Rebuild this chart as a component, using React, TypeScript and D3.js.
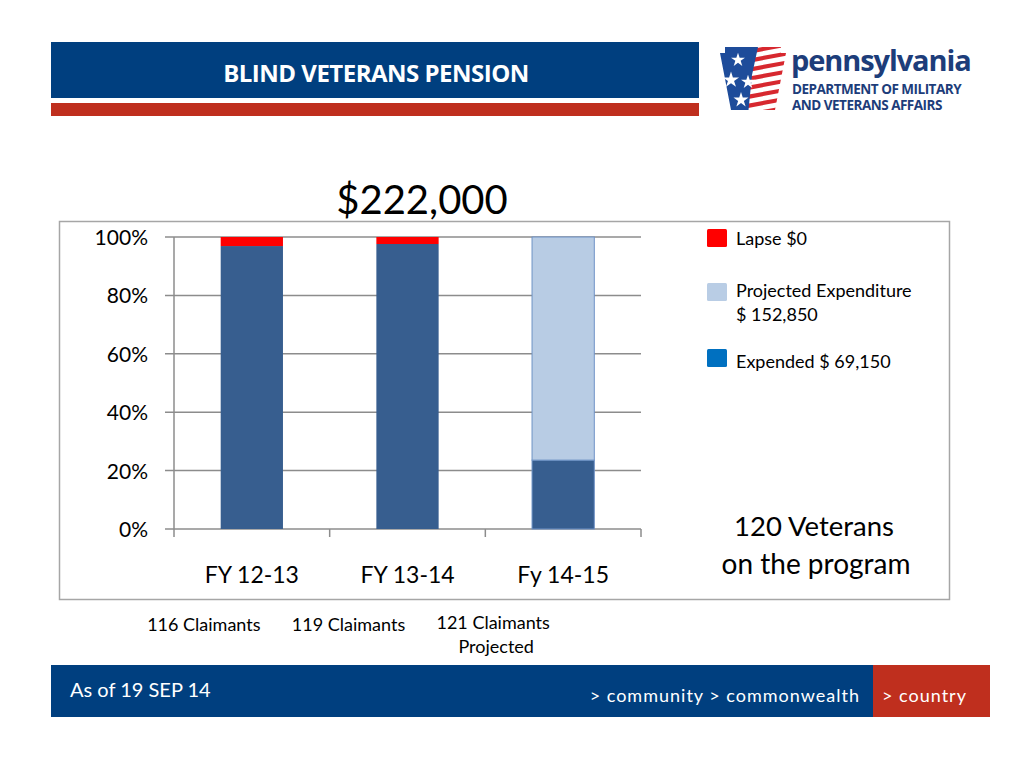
import React from "react";
import * as d3 from "d3";

const categories = ["FY 12-13", "FY 13-14", "Fy 14-15"];
const expended = [96.9, 97.6, 23.6];
const projected = [0, 0, 76.4];
const lapse = [3.1, 2.4, 0];
const yTicks = [0, 20, 40, 60, 80, 100];
const claimantLines = [["116 Claimants"], ["119 Claimants"], ["121 Claimants", "Projected"]];
const claimantOffsets = [-48, -59, -70];
const legendItems = [
  { key: "lapse", lines: ["Lapse $0"], color: "#FF0000" },
  { key: "projected", lines: ["Projected Expenditure", "$ 152,850"], color: "#B9CDE5" },
  { key: "expended", lines: ["Expended $ 69,150"], color: "#0070C0" },
];
const title = "$222,000";
const seriesKeys = ["expended", "projected", "lapse"];
const seriesColors: Record<string, string> = { expended: "#375E8F", projected: "#B8CCE4", lapse: "#FF0000" };

const FONT = "Lato, 'Open Sans', sans-serif";

export default function App() {
  const rows = categories.map((c, i) => ({ cat: c, expended: expended[i], projected: projected[i], lapse: lapse[i] }));
  const stack = d3.stack<any>().keys(seriesKeys);
  const series = stack(rows);
  const x = d3.scaleBand().domain(categories).range([174, 641]).padding(0);
  const y = d3.scaleLinear().domain([0, 100]).range([529, 237]);
  const barW = x.bandwidth() * 0.4;

  const star = d3.symbol().type(d3.symbolStar);
  const legendMarkerY = [229, 283, 349];
  const legendTextY = [[245], [297, 321], [368]];

  return (
    <svg width={1024} height={768} style={{ position: "absolute", left: 0, top: 0, background: "#fff" }} fontFamily={FONT}>
      <rect x={0} y={0} width={1024} height={768} fill="#ffffff" />
      {/* header */}
      <rect x={51} y={42} width={648} height={56} fill="#003F7F" />
      <rect x={51} y={103} width={648} height={13} fill="#BF2F1E" />
      <text x={376} y={82} textAnchor="middle" fill="#fff" fontSize={24} fontWeight="bold" fontFamily="'Open Sans', sans-serif" letterSpacing={-0.5}>BLIND VETERANS PENSION</text>

      {/* logo */}
      <g>
        <clipPath id="ks">
          <polygon points="725,47 781,47 781,53 786,53 775,110 731,110 720,53 725,53" />
        </clipPath>
        <g clipPath="url(#ks)">
          <rect x={715} y={45} width={75} height={70} fill="#fff" />
          {d3.range(8).map((i) => (
            <polygon key={i} points={`${735},${52 + i * 9} ${790},${42 + i * 9} ${790},${46 + i * 9} ${735},${56.5 + i * 9}`} fill="#D7282F" />
          ))}
          <polygon points="715,45 752,45 758,47 752,75 748,115 715,115" fill="#1E4C9A" />
        </g>
        {[[738, 60, 60], [731, 80, 80], [748, 82, 60], [741, 100, 70]].map(([cx, cy, s], i) => (
          <path key={i} d={star.size(s as number)() as string} transform={`translate(${cx},${cy})`} fill="#fff" />
        ))}
        <text x={791} y={71} fill="#1D3D7A" fontSize={29} fontWeight="bold" fontFamily="'Open Sans', sans-serif" letterSpacing={-1.1}>pennsylvania</text>
        <text x={792} y={94} fill="#1D3D7A" fontSize={13.5} fontWeight="bold" fontFamily="'Open Sans', sans-serif" letterSpacing={-0.5}>DEPARTMENT OF MILITARY</text>
        <text x={792} y={110} fill="#1D3D7A" fontSize={13.5} fontWeight="bold" fontFamily="'Open Sans', sans-serif" letterSpacing={-0.5}>AND VETERANS AFFAIRS</text>
      </g>

      {/* title */}
      <text x={422} y={214} textAnchor="middle" fontSize={40} fill="#000" fontFamily={FONT}>{title}</text>

      {/* chart frame */}
      <rect x={59.5} y={221.5} width={890} height={378} fill="none" stroke="#A6A6A6" strokeWidth={1.5} />

      {/* gridlines and y ticks */}
      {yTicks.map((t) => (
        <g key={t}>
          <line x1={165} x2={641} y1={y(t)} y2={y(t)} stroke="#8C8C8C" strokeWidth={1.5} />
          <text x={148} y={y(t) + 8} textAnchor="end" fontSize={21} fill="#000">{t}%</text>
        </g>
      ))}
      <line x1={174} x2={174} y1={237} y2={537} stroke="#8C8C8C" strokeWidth={1.5} />
      {[...categories.map((c) => x(c) as number), 641].slice(1).map((v, i) => (
        <line key={i} x1={v} x2={v} y1={529} y2={537} stroke="#8C8C8C" strokeWidth={1.5} />
      ))}

      {/* bars */}
      {series.map((s) => (
        <g key={s.key}>
          {s.map((d, i) => {
            const h = y(d[0]) - y(d[1]);
            if (h <= 0) return null;
            const cx = (x(categories[i]) as number) + x.bandwidth() / 2;
            const isP = s.key === "projected" || (s.key === "expended" && i === 2);
            return (
              <rect key={i} x={cx - barW / 2} y={y(d[1])} width={barW} height={h} fill={seriesColors[s.key]}
                stroke={isP ? "#6E92C6" : "none"} strokeWidth={1} />
            );
          })}
        </g>
      ))}

      {/* x labels */}
      {categories.map((c) => (
        <text key={c} x={(x(c) as number) + x.bandwidth() / 2} y={583} textAnchor="middle" fontSize={23} fill="#000">{c}</text>
      ))}

      {/* legend */}
      {legendItems.map((it, i) => (
        <g key={it.key}>
          <rect x={707} y={legendMarkerY[i]} width={20} height={18} rx={1.5} fill={it.color} />
          {it.lines.map((l, j) => (
            <text key={j} x={736} y={legendTextY[i][j]} fontSize={18} fill="#000">{l}</text>
          ))}
        </g>
      ))}

      <text x={814} y={536} textAnchor="middle" fontSize={27.5} fill="#000">120 Veterans</text>
      <text x={816} y={574} textAnchor="middle" fontSize={28} fill="#000">on the program</text>

      {/* claimants */}
      {categories.map((c, i) => {
        const cx = (x(c) as number) + x.bandwidth() / 2 + claimantOffsets[i];
        return claimantLines[i].map((l, j) => (
          <text key={c + j} x={cx + (j === 1 ? 3 : 0)} y={(i === 2 ? 629 : 631) + j * 24} textAnchor="middle" fontSize={18} fill="#000">{l}</text>
        ));
      })}

      {/* footer */}
      <rect x={51} y={665} width={822} height={52} fill="#003F7F" />
      <rect x={873} y={665} width={117} height={52} fill="#BF2F1E" />
      <text x={70} y={697} fill="#fff" fontSize={20}>As of 19 SEP 14</text>
      <text x={860} y={702} textAnchor="end" fill="#fff" fontSize={18} letterSpacing={1}>&gt; community &gt; commonwealth</text>
      <text x={882} y={702} fill="#fff" fontSize={18} letterSpacing={1}>&gt; country</text>
    </svg>
  );
}
